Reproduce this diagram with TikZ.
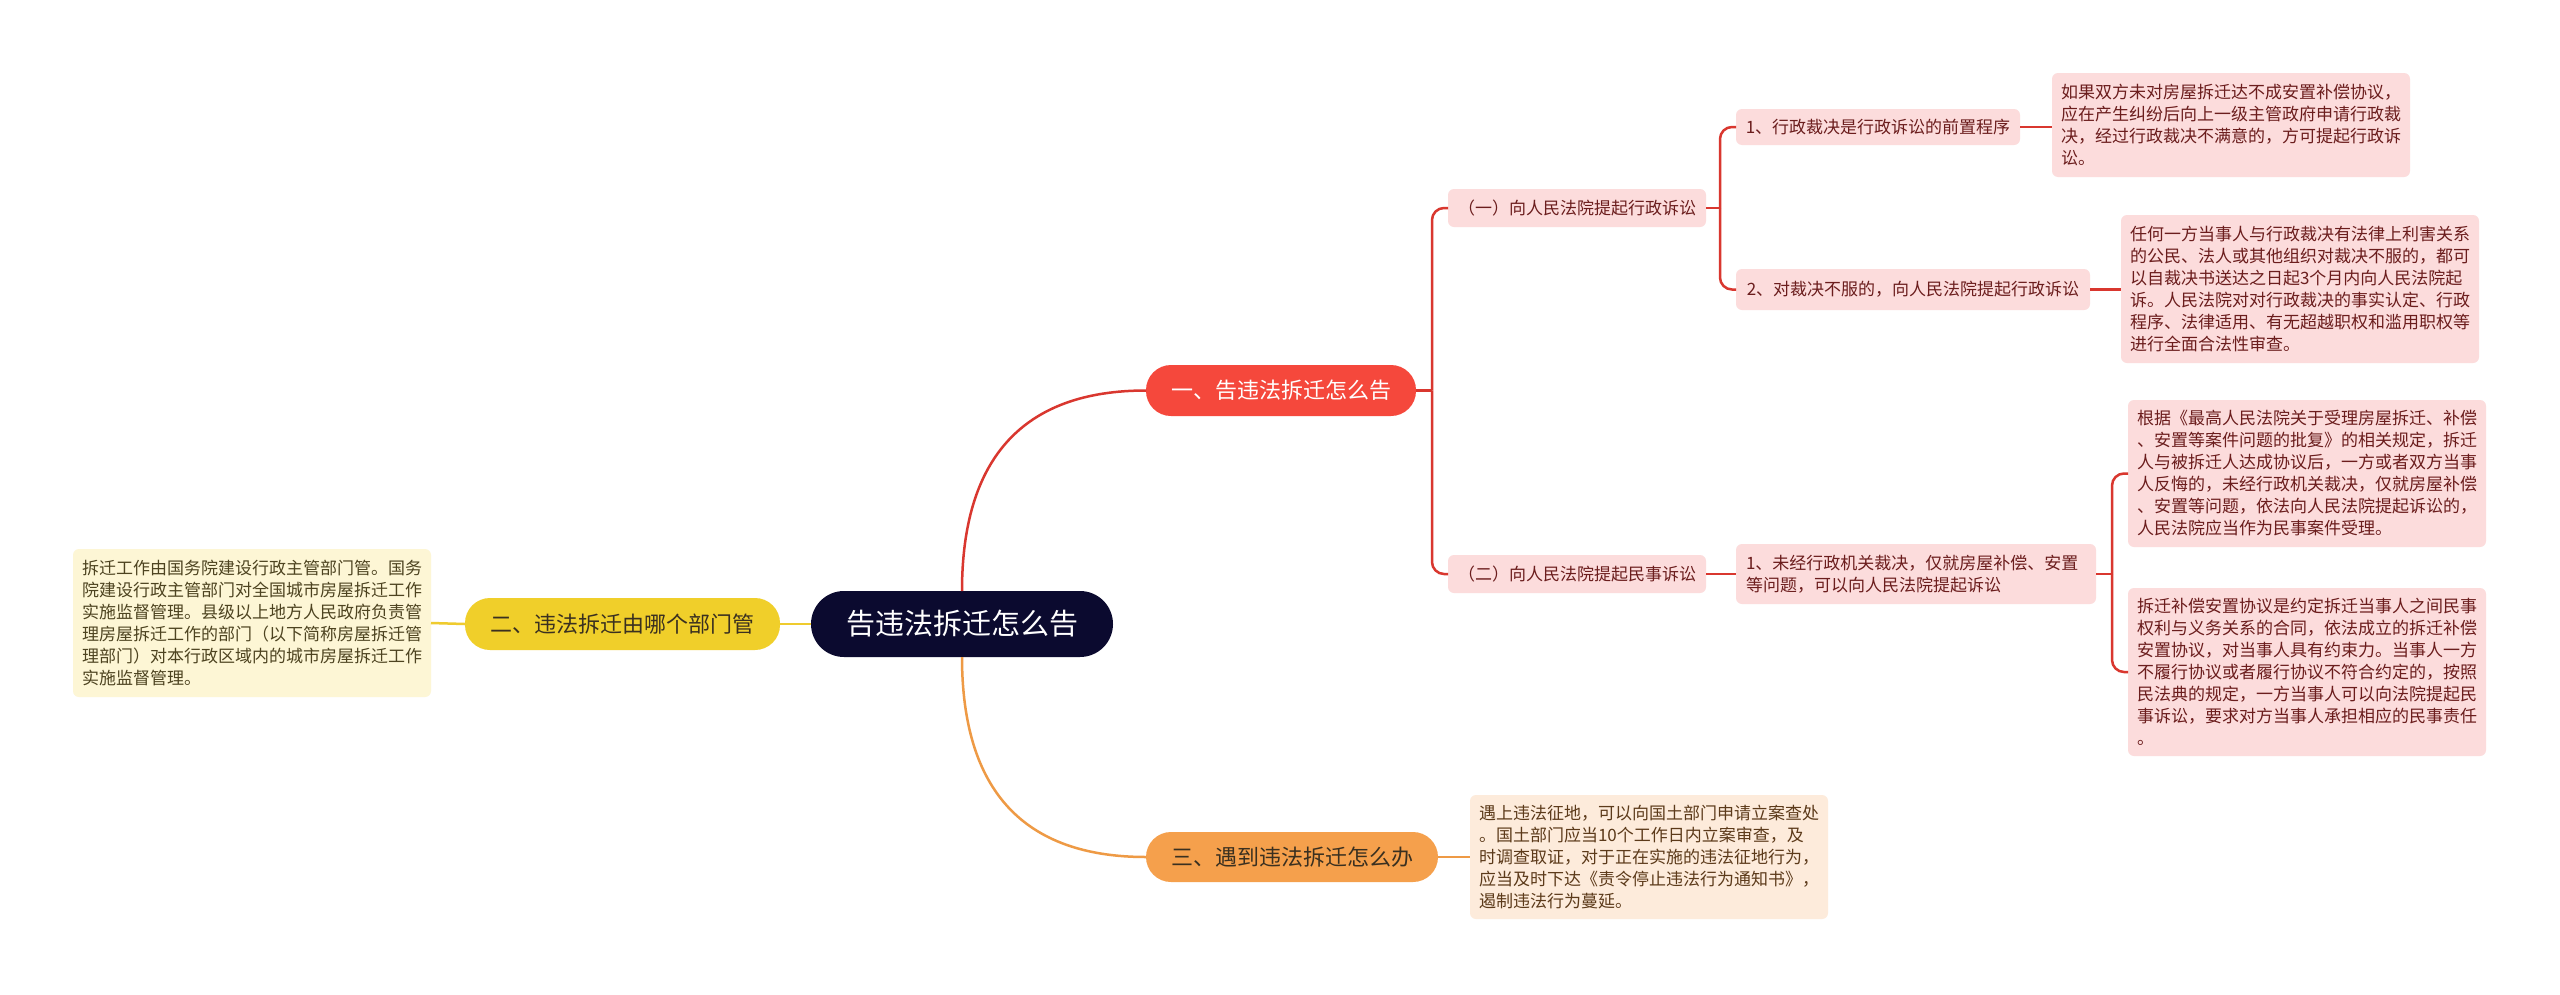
\documentclass[tikz,border=0pt]{standalone}
\usepackage{fontspec}
\setmainfont{Noto Sans CJK SC}
\definecolor{rootfill}{HTML}{0B0A2F}
\definecolor{redmain}{HTML}{F5483C}
\definecolor{yellowmain}{HTML}{F0CF2A}
\definecolor{orangemain}{HTML}{F5A04C}
\definecolor{pinkfill}{HTML}{FCDCDC}
\definecolor{pinktext}{HTML}{6B1D1D}
\definecolor{yellowfill}{HTML}{FDF6D5}
\definecolor{yellowtext}{HTML}{4D4320}
\definecolor{orangefill}{HTML}{FDEBDB}
\definecolor{orangetext}{HTML}{5C3A1A}
\definecolor{darktext}{HTML}{3A3020}
\definecolor{redline}{HTML}{D9372F}
\definecolor{yellowline}{HTML}{EFCB2E}
\definecolor{orangeline}{HTML}{EE9A45}
\begin{document}
\begin{tikzpicture}[x=1pt,y=-1pt,
  every node/.style={inner sep=0pt, outer sep=0pt},
  rootnode/.style={fill=rootfill, text=white, rounded corners=33pt, minimum width=302pt, minimum height=66pt, font=\fontsize{29}{34}\selectfont},
  mainnode/.style={rounded corners=25pt, minimum height=51pt, font=\fontsize{22}{26}\selectfont},
  subnode/.style={fill=pinkfill, text=pinktext, rounded corners=6pt, font=\fontsize{17}{22}\selectfont},
  textbox/.style={rounded corners=6pt, anchor=north west, align=left, text width=340pt, inner xsep=9pt, font=\fontsize{17}{22}\selectfont},
  pinkbox/.style={textbox, fill=pinkfill, text=pinktext},
  yellowbox/.style={textbox, fill=yellowfill, text=yellowtext},
  orangebox/.style={textbox, fill=orangefill, text=orangetext},
  redl/.style={draw=redline, line width=2.5pt},
  redrc/.style={draw=redline, line width=2.5pt, rounded corners=12pt},
  yell/.style={draw=yellowline, line width=2.5pt},
  orl/.style={draw=orangeline, line width=2.5pt}
]
\useasboundingbox (0,0) rectangle (2560,994);
\fill[white] (0,0) rectangle (2560,994);

% nodes
\node[rootnode] (root) at (962,624) {告违法拆迁怎么告};
\node[mainnode, fill=redmain, text=white, minimum width=270pt] (b1) at (1281,390.5) {一、告违法拆迁怎么告};
\node[mainnode, fill=yellowmain, text=darktext, minimum width=315pt, minimum height=52pt] (b2) at (622.5,624) {二、违法拆迁由哪个部门管};
\node[mainnode, fill=orangemain, text=darktext, minimum width=292pt, minimum height=50pt] (b3) at (1292,857) {三、遇到违法拆迁怎么办};

\node[subnode, minimum width=258pt, minimum height=38pt] (s11) at (1577,208) {（一）向人民法院提起行政诉讼};
\node[subnode, minimum width=258pt, minimum height=38pt] (s12) at (1577,574) {（二）向人民法院提起民事诉讼};
\node[subnode, minimum width=284pt, minimum height=36pt] (t1) at (1878,127) {1、行政裁决是行政诉讼的前置程序};
\node[subnode, minimum width=354pt, minimum height=41pt] (t2) at (1913,289.5) {2、对裁决不服的，向人民法院提起行政诉讼};
\node[pinkbox, inner xsep=10pt, minimum height=60pt] (t3) at (1736,544) {1、未经行政机关裁决，仅就房屋补偿、安置\\等问题，可以向人民法院提起诉讼};

\node[pinkbox, minimum height=104pt] (d1) at (2052,73) {如果双方未对房屋拆迁达不成安置补偿协议，\\应在产生纠纷后向上一级主管政府申请行政裁\\决，经过行政裁决不满意的，方可提起行政诉\\讼。};
\node[pinkbox, minimum height=148pt] (d2) at (2121,215) {任何一方当事人与行政裁决有法律上利害关系\\的公民、法人或其他组织对裁决不服的，都可\\以自裁决书送达之日起3个月内向人民法院起\\诉。人民法院对对行政裁决的事实认定、行政\\程序、法律适用、有无超越职权和滥用职权等\\进行全面合法性审查。};
\node[pinkbox, minimum height=147pt] (d3) at (2128,400) {根据《最高人民法院关于受理房屋拆迁、补偿\\、安置等案件问题的批复》的相关规定，拆迁\\人与被拆迁人达成协议后，一方或者双方当事\\人反悔的，未经行政机关裁决，仅就房屋补偿\\、安置等问题，依法向人民法院提起诉讼的，\\人民法院应当作为民事案件受理。};
\node[pinkbox, minimum height=168pt] (d4) at (2128,588) {拆迁补偿安置协议是约定拆迁当事人之间民事\\权利与义务关系的合同，依法成立的拆迁补偿\\安置协议，对当事人具有约束力。当事人一方\\不履行协议或者履行协议不符合约定的，按照\\民法典的规定，一方当事人可以向法院提起民\\事诉讼，要求对方当事人承担相应的民事责任\\。};
\node[yellowbox, minimum height=148pt] (dl) at (73,549) {拆迁工作由国务院建设行政主管部门管。国务\\院建设行政主管部门对全国城市房屋拆迁工作\\实施监督管理。县级以上地方人民政府负责管\\理房屋拆迁工作的部门（以下简称房屋拆迁管\\理部门）对本行政区域内的城市房屋拆迁工作\\实施监督管理。};
\node[orangebox, minimum height=124pt] (d5) at (1470,795) {遇上违法征地，可以向国土部门申请立案查处\\。国土部门应当10个工作日内立案审查，及\\时调查取证，对于正在实施的违法征地行为，\\应当及时下达《责令停止违法行为通知书》，\\遏制违法行为蔓延。};

% connectors
\draw[redl] (root.north) .. controls (962,457) and (1024,390.5) .. (b1.west);
\draw[orl] (root.south) .. controls (962,791) and (1024,857) .. (b3.west);
\draw[yell] (root.west) -- (b2.east);
\draw[yell] (b2.west) -- (dl.east);

\coordinate (j1) at (1432,390.5);
\draw[redl] (b1.east) -- (j1);
\draw[redrc] (j1) |- (s11.west);
\draw[redrc] (j1) |- (s12.west);

\coordinate (j2) at (1720,208);
\draw[redl] (s11.east) -- (j2);
\draw[redrc] (j2) |- (t1.west);
\draw[redrc] (j2) |- (t2.west);
\draw[redl] (t1.east) -- (t1.east -| d1.west);
\draw[redl] (t2.east) -- (t2.east -| d2.west);

\draw[redl] (s12.east) -- (s12.east -| t3.west);
\coordinate (j3) at (2112,574);
\draw[redl] (t3.east) -- (j3);
\draw[redrc] (j3) |- (d3.west);
\draw[redrc] (j3) |- (d4.west);

\draw[orl] (b3.east) -- (b3.east -| d5.west);
\end{tikzpicture}
\end{document}
